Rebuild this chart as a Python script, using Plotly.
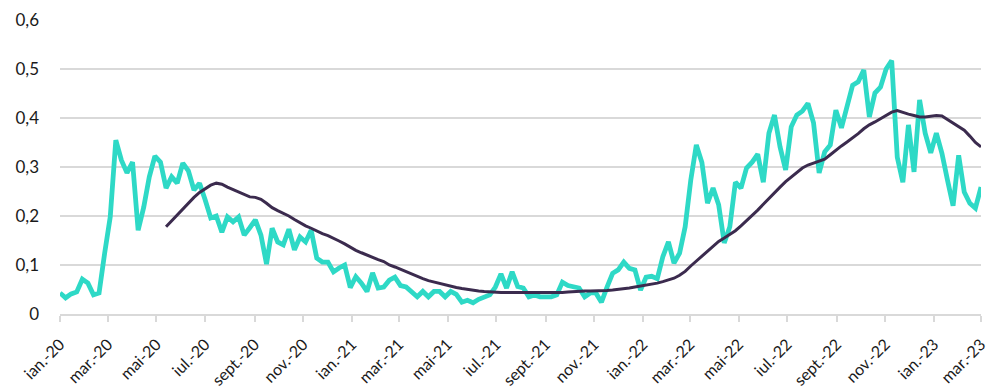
import datetime as dt
import plotly.graph_objects as go

start = dt.date(2020, 1, 1)

teal_values = [
    0.043, 0.033, 0.041, 0.045, 0.071, 0.063, 0.039, 0.043, 0.124, 0.198,
    0.355, 0.314, 0.288, 0.310, 0.171, 0.218, 0.280, 0.322, 0.310, 0.257,
    0.280, 0.267, 0.308, 0.292, 0.253, 0.267, 0.233, 0.196, 0.200, 0.167,
    0.198, 0.188, 0.198, 0.161, 0.176, 0.192, 0.161, 0.102, 0.175, 0.147,
    0.141, 0.173, 0.131, 0.157, 0.147, 0.171, 0.114, 0.106, 0.106, 0.086,
    0.094, 0.100, 0.054, 0.076, 0.063, 0.046, 0.084, 0.053, 0.055, 0.069,
    0.075, 0.058, 0.055, 0.046, 0.035, 0.046, 0.035, 0.046, 0.046, 0.035,
    0.046, 0.040, 0.024, 0.028, 0.023, 0.030, 0.034, 0.039, 0.055, 0.082,
    0.053, 0.086, 0.056, 0.053, 0.035, 0.039, 0.035, 0.035, 0.035, 0.039,
    0.065, 0.058, 0.055, 0.053, 0.035, 0.043, 0.043, 0.024, 0.055, 0.083,
    0.090, 0.106, 0.093, 0.090, 0.049, 0.075, 0.077, 0.072, 0.117, 0.147,
    0.104, 0.124, 0.178, 0.273, 0.345, 0.309, 0.226, 0.257, 0.223, 0.145,
    0.178, 0.269, 0.257, 0.298, 0.310, 0.326, 0.269, 0.369, 0.406, 0.341,
    0.294, 0.382, 0.406, 0.414, 0.430, 0.390, 0.288, 0.331, 0.345, 0.416,
    0.380, 0.423, 0.467, 0.474, 0.498, 0.402, 0.451, 0.463, 0.500, 0.517,
    0.320, 0.269, 0.386, 0.290, 0.437, 0.369, 0.329, 0.369, 0.328, 0.273,
    0.221, 0.324, 0.249, 0.226, 0.216, 0.259,
]

avg_start_week = 19
avg_values = [
    0.178, 0.190, 0.203, 0.215, 0.227, 0.238, 0.248, 0.256, 0.263, 0.267,
    0.265, 0.259, 0.254, 0.249, 0.243, 0.239, 0.238, 0.234, 0.226, 0.217,
    0.211, 0.206, 0.200, 0.193, 0.186, 0.180, 0.175, 0.169, 0.164, 0.160,
    0.155, 0.149, 0.143, 0.136, 0.130, 0.125, 0.120, 0.115, 0.111, 0.107,
    0.100, 0.096, 0.091, 0.086, 0.081, 0.076, 0.072, 0.068, 0.065, 0.062,
    0.059, 0.056, 0.054, 0.052, 0.050, 0.048, 0.047, 0.046, 0.045, 0.045,
    0.044, 0.044, 0.044, 0.043, 0.043, 0.043, 0.043, 0.043, 0.043, 0.043,
    0.044, 0.044, 0.045, 0.046, 0.046, 0.047, 0.047, 0.047, 0.047, 0.048,
    0.049, 0.050, 0.051, 0.053, 0.055, 0.057, 0.058, 0.060, 0.063, 0.066,
    0.069, 0.073, 0.079, 0.087, 0.098, 0.108, 0.118, 0.128, 0.137, 0.148,
    0.155, 0.162, 0.170, 0.180, 0.190, 0.200, 0.212, 0.224, 0.236, 0.249,
    0.259, 0.270, 0.280, 0.290, 0.298, 0.304, 0.308, 0.312, 0.316, 0.325,
    0.335, 0.343, 0.351, 0.359, 0.368, 0.378, 0.386, 0.392, 0.399, 0.405,
    0.412, 0.415, 0.411, 0.408, 0.405, 0.402, 0.402, 0.404, 0.405, 0.404,
    0.397, 0.390, 0.383, 0.375, 0.363, 0.350, 0.341,
]

tick_dates = [
    "2020-01-01", "2020-03-01", "2020-05-01", "2020-07-01", "2020-09-01", "2020-11-01",
    "2021-01-01", "2021-03-01", "2021-05-01", "2021-07-01", "2021-09-01", "2021-11-01",
    "2022-01-01", "2022-03-01", "2022-05-01", "2022-07-01", "2022-09-01", "2022-11-01",
    "2023-01-01", "2023-03-01",
]
tick_labels = [
    "ian.-20", "mar.-20", "mai-20", "iul.-20", "sept.-20", "nov.-20",
    "ian.-21", "mar.-21", "mai-21", "iul.-21", "sept.-21", "nov.-21",
    "ian.-22", "mar.-22", "mai-22", "iul.-22", "sept.-22", "nov.-22",
    "ian.-23", "mar.-23",
]
y_ticks = [0, 0.1, 0.2, 0.3, 0.4, 0.5, 0.6]
y_labels = ["0", "0,1", "0,2", "0,3", "0,4", "0,5", "0,6"]

dates = [start + dt.timedelta(days=7 * i) for i in range(len(teal_values))]
avg_dates = dates[avg_start_week:avg_start_week + len(avg_values)]

fig = go.Figure()
fig.add_trace(go.Scatter(
    x=dates, y=teal_values, mode="lines",
    line=dict(color="#2ED9C6", width=4.8), showlegend=False,
))
fig.add_trace(go.Scatter(
    x=avg_dates, y=avg_values, mode="lines",
    line=dict(color="#3B2B4E", width=3), showlegend=False,
))

fig.update_layout(
    width=990, height=391,
    margin=dict(l=60, r=9, t=20, b=77),
    paper_bgcolor="white", plot_bgcolor="white",
    font=dict(family="Lato, Open Sans, sans-serif", size=17, color="#1a1a1a"),
)
fig.update_xaxes(
    type="date", automargin=False,
    range=[dates[0].isoformat(), "2023-03-01"],
    tickmode="array", tickvals=tick_dates, ticktext=tick_labels,
    tickangle=-45, showgrid=False, showline=True, linecolor="#d9d9d9", linewidth=1.5,
    ticks="outside", ticklen=6, tickcolor="#d9d9d9", tickwidth=1.5,
    tickfont=dict(size=16), zeroline=False, ticklabelstandoff=7,
)
fig.update_yaxes(
    automargin=False,
    range=[0, 0.6], tickmode="array", tickvals=y_ticks, ticktext=y_labels,
    showgrid=True, gridcolor="#d9d9d9", gridwidth=1.5, zeroline=False,
    ticks="", ticklabelstandoff=20, tickfont=dict(size=17),
)

fig.write_html("out.html")
